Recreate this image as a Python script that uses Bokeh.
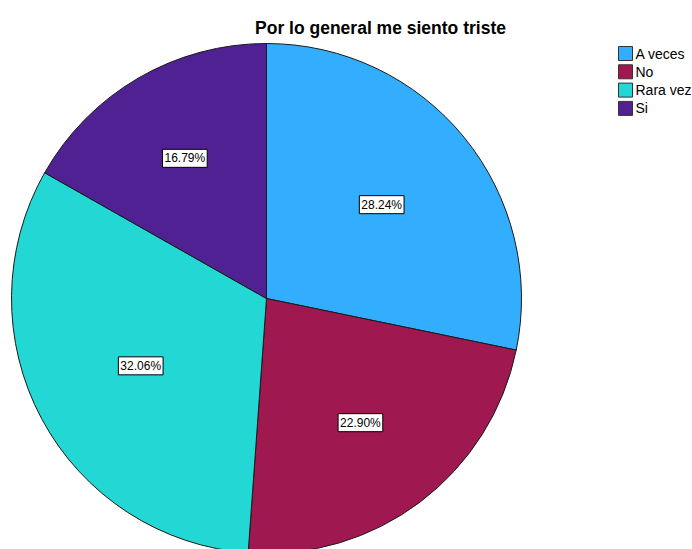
import numpy as np
from bokeh.plotting import figure
from bokeh.models import Range1d, Label, ColumnDataSource
from bokeh.core.properties import value
from bokeh.embed import file_html
from bokeh.resources import INLINE

title_text = "Por lo general me siento triste"
categories = ["A veces", "No", "Rara vez", "Si"]
percentages = [28.24, 22.90, 32.06, 16.79]
colors = ["#33AEFF", "#A01850", "#22D7D4", "#502192"]

W, H = 692, 549
FONT = "Liberation Sans"

p = figure(width=W, height=H, x_range=Range1d(0, W), y_range=Range1d(0, H),
           output_backend="svg", toolbar_location=None, min_border=0,
           x_axis_location=None, y_axis_location=None)
p.grid.visible = False
p.outline_line_color = None
p.background_fill_color = "white"
p.border_fill_color = "white"

cx, cy, R = 266, 251, 255
frac = np.array(percentages) / np.sum(percentages)
cum = np.cumsum(frac)
prev = np.concatenate([[0], cum[:-1]])
start = np.pi / 2 - 2 * np.pi * prev
end = np.pi / 2 - 2 * np.pi * cum

src = ColumnDataSource(dict(cat=categories, start=start, end=end, color=colors))
p.wedge(x=cx, y=cy, radius=R, start_angle="start", end_angle="end",
        direction="clock", fill_color="color", line_color="#1a1a1a",
        line_width=1, source=src)

# percentage labels at sector centroids
mid = (start + end) / 2
half = np.pi * frac
dist = 2 * R * np.sin(half) / (3 * half)
for m, d, pct in zip(mid, dist, percentages):
    p.add_layout(Label(x=cx + d * np.cos(m), y=cy + d * np.sin(m),
                       text=f"{pct:.2f}%", text_align="center",
                       text_baseline="middle", text_font=FONT,
                       text_font_size="12px", text_color="black",
                       background_fill_color="white",
                       border_line_color="black", border_line_width=1,
                       padding=2))

# title
p.add_layout(Label(x=380, y=522, text=title_text, text_align="center",
                   text_baseline="middle", text_font=FONT,
                   text_font_size="17.5px", text_font_style="bold",
                   text_color="black"))

# legend
n = len(categories)
ly = H - (53 + 18.3 * np.arange(n))
lsrc = ColumnDataSource(dict(x=[625] * n, tx=[635] * n, y=ly,
                             cat=categories, color=colors))
p.rect(x="x", y="y", width=14, height=14, fill_color="color",
       line_color="#333333", line_width=1, source=lsrc)
p.text(x="tx", y="y", text="cat", text_font=value(FONT),
       text_font_size="14px", text_baseline="middle", text_align="left",
       text_color="black", source=lsrc)

open("out.html", "w").write(file_html(p, INLINE))
